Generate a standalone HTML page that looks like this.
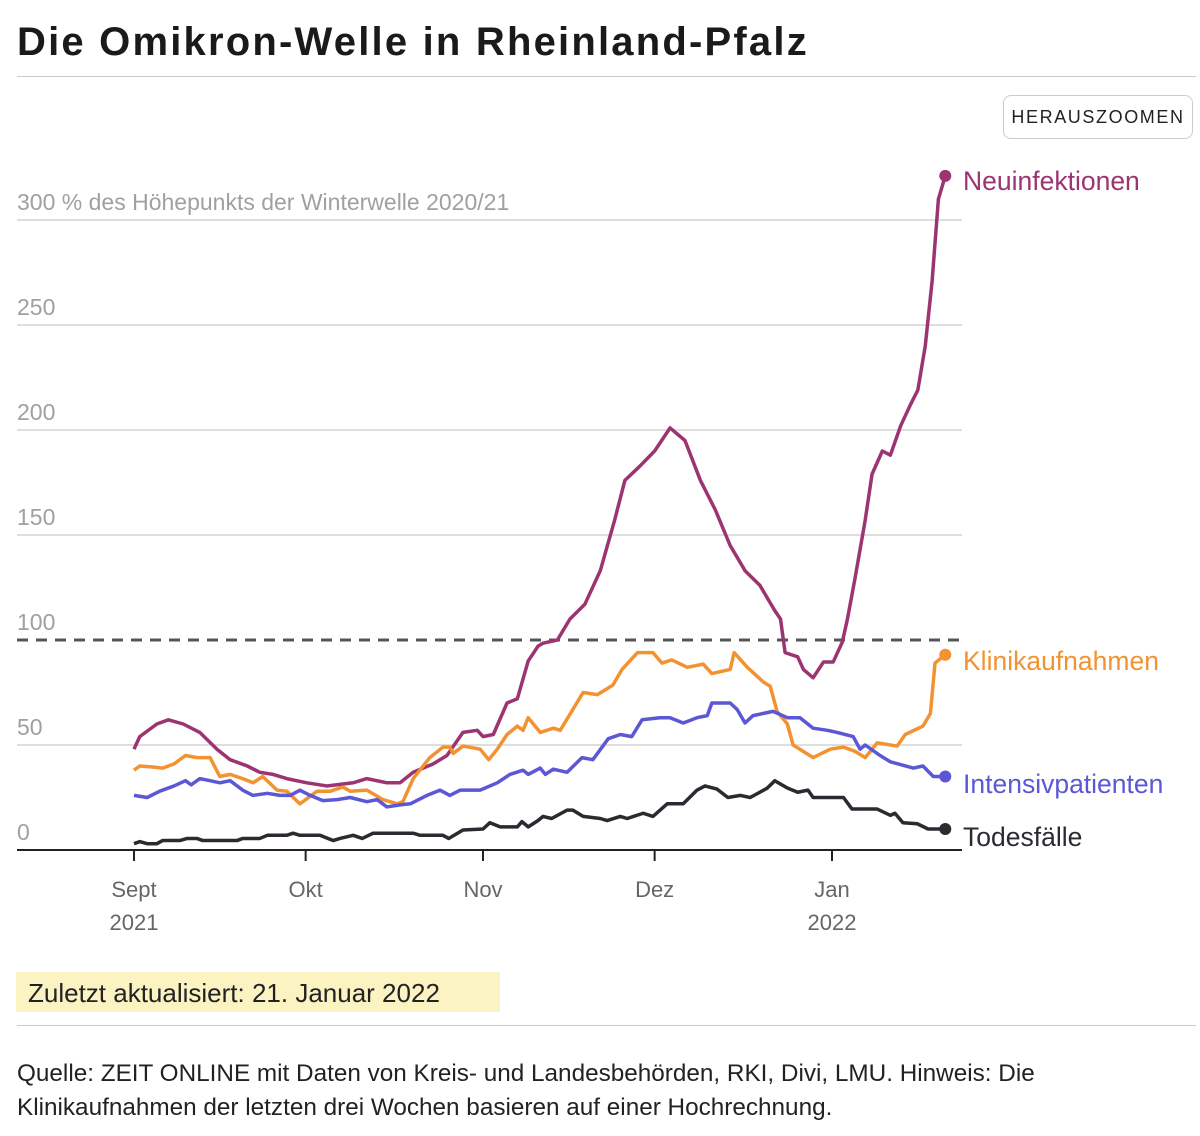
<!DOCTYPE html>
<html><head><meta charset="utf-8">
<style>
body{margin:0;width:1200px;height:1136px;background:#fff;font-family:"Liberation Sans",sans-serif;position:relative;overflow:hidden}
.t{position:absolute;white-space:nowrap}
</style></head>
<body>
<div class="t" style="left:17px;top:20px;font-size:40px;font-weight:bold;color:#1a1a1a;letter-spacing:2.2px">Die Omikron-Welle in Rheinland-Pfalz</div>
<div style="position:absolute;left:17px;top:76px;width:1179px;height:1px;background:#ccc"></div>
<div style="position:absolute;left:1003px;top:95px;width:190px;height:44px;border:1.5px solid #ccc;border-radius:8px;box-sizing:border-box;font-size:18px;letter-spacing:1.6px;color:#222;text-align:center;line-height:42px">HERAUSZOOMEN</div>
<svg id="chart" width="1200" height="960" style="position:absolute;left:0;top:0"></svg>
<div style="position:absolute;left:16px;top:972px;width:484px;height:40px;background:#fcf3c2;font-size:26px;color:#222;line-height:42px;padding-left:12px;box-sizing:border-box">Zuletzt aktualisiert: 21. Januar 2022</div>
<div style="position:absolute;left:17px;top:1025px;width:1179px;height:1px;background:#ccc"></div>
<div class="t" style="left:17px;top:1057px;font-size:24.3px;color:#222;line-height:34px;white-space:normal;width:1080px">Quelle: ZEIT ONLINE mit Daten von Kreis- und Landesbehörden, RKI, Divi, LMU. Hinweis: Die Klinikaufnahmen der letzten drei Wochen basieren auf einer Hochrechnung.</div>
<script>
const monthLabels=["Sept","Okt","Nov","Dez","Jan"];
const monthYears=["2021","","","","2022"];
const monthDays=[0,30,61,91,122];
const yTicks=[0,50,100,150,200,250,300];
const neuDays=[0,1,4,6,8.6,11.5,14.5,16.8,19.8,22,24.3,26.7,30.2,33.7,38.3,40.7,44.2,46.5,48.8,52.3,54.7,57.5,60,61,62.8,65.2,67,68.9,70.6,71.5,74,76.2,78.8,81.5,84,85.8,88.5,91,93.7,96.3,99,101.6,104.2,106.8,109.4,112,113,113.8,116,117,118.7,120.5,122.2,123.8,124.7,126,127.8,129,130.8,132.2,134,135.7,137,138.3,139.5,140.6,141.8];
const neuVals=[48,54,60,62,60,56,48,43,40,37,36,34,32,30.5,32,34,32,32,37,41,45,56,57,54,55,70,72,90,97,98.5,100,110,117,133,157,176,183,190,201,195,176,162,145,133,126,114,110,94,92,86,82,89.5,89.5,99,110,129,157,179,190,188,202,212,219,240,271,310,321];
const kliDays=[0,1,3.3,5,7,9,11,13.3,15,16.8,19,20.8,22.5,25,26.7,29,32,34.3,36.5,37.8,40.7,43.5,46,47,48.8,51.7,54,55.2,55.8,57.5,60.5,62,63.5,65.2,67,68,68.9,71,73.3,74.5,78.5,81,83.7,85.3,88,90.7,92.3,94,96.7,99.5,101,104.2,104.9,107.2,110,111.2,112.4,114.2,115.2,118.7,121.7,124,126,127.8,129.9,133.4,134.8,137.9,139.2,140,141.8];
const kliVals=[38,40,39.5,39,41,45,44,44,35,36,34,32,35,28.5,28,22,28,28,30,28,28.5,24,22,23,34,44,49,49,46,49.5,48,43,48,55,59,57,63,56,58,57,75,74,78.5,86,94,94,89,90.5,87,88.5,84,86,94,87,80,78,66,60,50,44,48,49,47,44,51,49.5,55,59,65,89,93];
const itsDays=[0,2.3,4.5,7,9,10,11.5,13.3,15,16.8,19,20.8,23.3,25.5,27.3,29,30.8,33,35.5,37.8,40.7,42.5,44.2,46.5,48.3,51.2,53.5,55.2,57,60.5,63.5,65.7,68,68.9,71,71.9,73.3,75.7,78.3,80.2,82.9,85,87,88.8,91.9,93.7,96,98.4,100.2,101,104.2,105.4,106.8,108.2,111.7,114.2,116.4,118.7,121.2,122.9,125.7,126.9,127.8,130.4,132.2,136.2,137.9,139.7,141.8];
const itsVals=[26,25,28,30.5,33,31,34,33,32,33,28.5,26,27,26,26,28.5,26,23.5,24,25,23,24,20.5,21.5,22,26,28.5,26,28.5,28.5,32,36,38,36,39,36,38.5,37,44,43,53,55,54,62,63,63,60.5,63,64,70,70,67,60.5,64,66,63,63,58,57,56,54,48,50,45,42,39,40,35,35];
const todDays=[0,1,2.3,4,5,8,9.3,11,12,18,19,22,23.3,26.7,27.8,29,32.5,34.8,36,38.3,39.9,41.8,48.8,50,54,55,57.5,61,62.2,64,67,67.8,68.9,70.6,71.5,73,75.7,76.7,78.5,81.5,82.7,85,86.2,89,90.7,93.2,96,98.4,99.8,101.9,103.8,106,107.7,110.7,112,114.2,116,117.8,118.7,124,125.5,129.9,132.2,133,134.4,136.9,138.8,141.8];
const todVals=[3,4,3,3,4.5,4.5,5.5,5.5,4.5,4.5,5.5,5.5,7,7,8,7,7,4.5,5.5,7,5.5,8,8,7,7,5.5,9.5,10,13,11,11,13.5,11,14,16,15,19,19,16,15,14,16,15,17.5,16,22,22,28.5,30.5,29,25,26,25,29.5,33,29.5,27.5,28.5,25,25,19.5,19.5,16.5,17.5,13,12.5,10,10];
const seriesNames=["Neuinfektionen","Klinikaufnahmen","Intensivpatienten","Todesfälle"];

const NS="http://www.w3.org/2000/svg";
const svg=document.getElementById("chart");
const X=d=>134+d*(832-134)/122;
const Y=v=>850-v*2.1;
function mk(tag,attrs,parent){const e=document.createElementNS(NS,tag);for(const k in attrs)e.setAttribute(k,attrs[k]);(parent||svg).appendChild(e);return e;}
yTicks.forEach((v,i)=>{
  if(v>0&&v!==100){const g=mk("line",{x1:17,x2:962,y1:Y(v),y2:Y(v),stroke:"#d4d4d4","stroke-width":1.5});
  
  }
  const t=mk("text",{x:17,y:Y(v)-10,"font-size":23,fill:"#a0a0a0","font-family":"Liberation Sans, sans-serif"});
  t.textContent=v===300?"300 % des Höhepunkts der Winterwelle 2020/21":String(v);
  
  
});
const dl=mk("line",{x1:17,x2:962,y1:Y(100),y2:Y(100),stroke:"#555","stroke-width":3,"stroke-dasharray":"11 8"});


const ax=mk("line",{x1:17,x2:962,y1:850,y2:850,stroke:"#222","stroke-width":2});


monthDays.forEach((d,i)=>{
  const tk=mk("line",{x1:X(d),x2:X(d),y1:850,y2:861,stroke:"#222","stroke-width":2});
  
  
  const t=mk("text",{x:X(d),y:897,"text-anchor":"middle","font-size":22,fill:"#666","font-family":"Liberation Sans, sans-serif"});
  t.textContent=monthLabels[i];
  
  
  if(monthYears[i]){const y=mk("text",{x:X(d),y:930,"text-anchor":"middle","font-size":22,fill:"#666","font-family":"Liberation Sans, sans-serif"});
  y.textContent=monthYears[i];
  
  }
});
const series=[[neuDays,neuVals,"#9c3471",190],[kliDays,kliVals,"#f39231",670],[itsDays,itsVals,"#5c57d4",793],[todDays,todVals,"#2a2a30",846]];
series.forEach((s,i)=>{
  const [ds,vs,c,ly]=s;
  const p=mk("polyline",{points:ds.map((d,j)=>X(d)+","+Y(vs[j])).join(" "),fill:"none",stroke:c,"stroke-width":3.5,"stroke-linejoin":"round"});
  
  
  const n=ds.length-1;
  const dot=mk("circle",{cx:X(ds[n]),cy:Y(vs[n]),r:6,fill:c});
  
  
  const t=mk("text",{x:963,y:ly,"font-size":26.5,fill:c,"font-family":"Liberation Sans, sans-serif"});
  t.textContent=seriesNames[i];
  
  
});
</script>
</body></html>
